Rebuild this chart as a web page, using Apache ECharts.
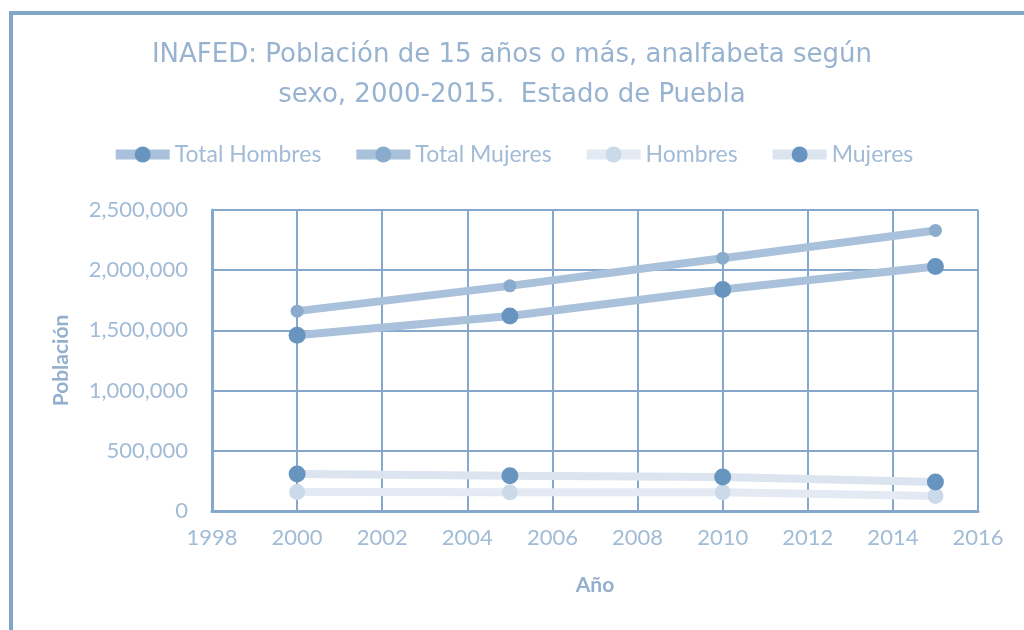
<!DOCTYPE html>
<html>
<head>
<meta charset="utf-8">
<script src="https://cdn.jsdelivr.net/npm/echarts@6/dist/echarts.min.js"></script>
<style>
  html, body { margin: 0; padding: 0; background: #fff; }
  #frame { position: absolute; left: 9px; top: 11px; width: 1100px; height: 700px;
           border-left: 4px solid #80a6c9; border-top: 4px solid #80a6c9; }
  #chart { position: absolute; left: 0; top: 0; width: 1024px; height: 630px; }
</style>
</head>
<body>
<div id="frame"></div>
<div id="chart"></div>
<script>
// datos
const years = [2000, 2005, 2010, 2015]
const totalHombres = [1460000, 1620000, 1840000, 2030000]
const totalMujeres = [1660000, 1870000, 2100000, 2330000]
const hombres = [157000, 155000, 155000, 125000]
const mujeres = [307000, 292000, 283000, 240000]

const textColor = '#a2bbd6'
const gridColor = '#84a9cc'
const font = 'Lato'

const chart = echarts.init(document.getElementById('chart'))

function pairs(vals) {
  return years.map((y, i) => [y, vals[i]])
}

function serie(name, vals, lineColor, markColor, size, z) {
  return {
    name: name,
    type: 'line',
    data: pairs(vals),
    symbol: 'circle',
    symbolSize: size,
    z: z,
    lineStyle: { color: lineColor, width: 8 },
    itemStyle: { color: markColor },
    emphasis: { disabled: true }
  }
}

const option = {
  animation: false,
  title: {
    text: 'INAFED: Población de 15 años o más, analfabeta según\nsexo, 2000-2015.  Estado de Puebla',
    left: 'center',
    top: 30,
    textStyle: {
      color: '#98b3d0', fontFamily: 'DejaVu Sans', fontWeight: 'normal',
      fontSize: 26, lineHeight: 40
    }
  },
  legend: {
    top: 138,
    left: 'center',
    itemWidth: 54,
    itemHeight: 20,
    itemGap: 30,
    lineStyle: { width: 10 },
    textStyle: { color: textColor, fontFamily: font, fontSize: 23 },
    data: ['Total Hombres', 'Total Mujeres', 'Hombres', 'Mujeres']
  },
  grid: { left: 212, right: 46, top: 210, bottom: 119 },
  xAxis: {
    type: 'value',
    min: 1998, max: 2016, interval: 2,
    name: 'Año',
    nameLocation: 'middle',
    nameGap: 64,
    nameTextStyle: { color: '#93afcd', fontFamily: font, fontSize: 21, fontWeight: 'bold' },
    axisLine: { show: true, lineStyle: { color: gridColor, width: 3 } },
    axisTick: { show: false },
    splitLine: { show: true, lineStyle: { color: gridColor, width: 2 } },
    axisLabel: { color: textColor, fontFamily: font, fontSize: 22, margin: 16, formatter: v => String(v) }
  },
  yAxis: {
    type: 'value',
    min: 0, max: 2500000, interval: 500000,
    name: 'Población',
    nameLocation: 'middle',
    nameGap: 140,
    nameTextStyle: { color: '#93afcd', fontFamily: font, fontSize: 21, fontWeight: 'bold' },
    axisLine: { show: true, lineStyle: { color: gridColor, width: 3 } },
    axisTick: { show: false },
    splitLine: { show: true, lineStyle: { color: gridColor, width: 2 } },
    axisLabel: {
      color: textColor, fontFamily: font, fontSize: 22, margin: 24,
      formatter: v => v.toLocaleString('en-US')
    }
  },
  series: [
    serie('Total Hombres', totalHombres, '#a9c1da', '#6895bf', 17, 4),
    serie('Total Mujeres', totalMujeres, '#a9c1da', '#8aabcc', 13, 3),
    serie('Hombres', hombres, '#e3eaf3', '#cbdae9', 16, 1),
    serie('Mujeres', mujeres, '#dbe4ef', '#6895bf', 17, 2)
  ]
}

chart.setOption(option)
</script>
</body>
</html>
